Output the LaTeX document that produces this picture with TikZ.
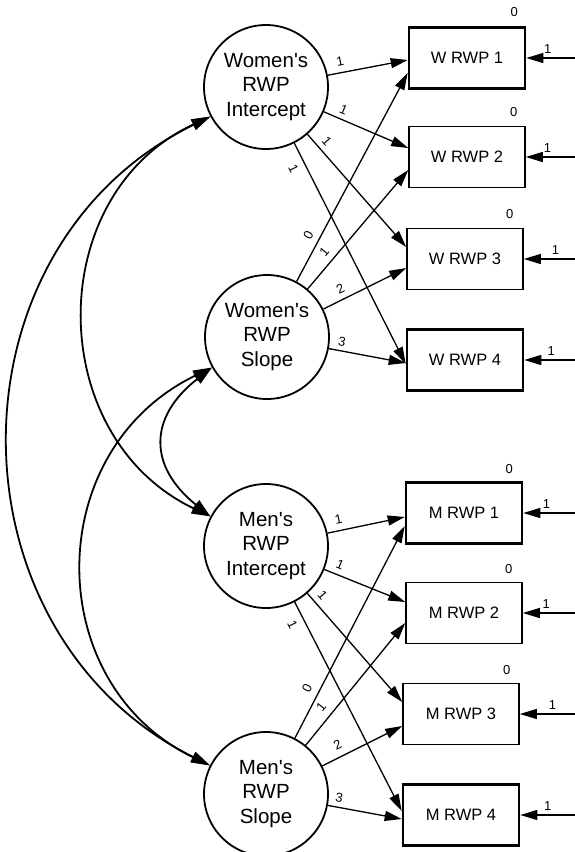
\documentclass[tikz,border=0pt]{standalone}
\usepackage{fontspec}
\setmainfont{Liberation Sans}[Ligatures=ResetAll]
\usetikzlibrary{arrows.meta,calc}
\newcommand\straightapos{\XeTeXglyph\XeTeXcharglyph"0027\relax}
\begin{document}
\begin{tikzpicture}[x=1pt,y=-1pt,
  lat/.style={circle, draw, line width=1.8pt, minimum size=124pt, inner sep=0pt, align=center, font=\fontsize{20.5}{24.5}\selectfont},
  obs/.style={rectangle, draw, minimum width=116pt, minimum height=61pt, inner sep=0pt, font=\fontsize{16.5}{19}\selectfont},
  boldbox/.style={obs, line width=2.6pt},
  plainbox/.style={obs, line width=1.6pt},
  reg/.style={line width=1.3pt, -{Triangle[length=17pt,width=10pt]}},
  cov/.style={line width=1.8pt, {Triangle[length=19pt,width=11pt]}-{Triangle[length=19pt,width=11pt]}},
  lab/.style={font=\fontsize{13}{15}\selectfont, inner sep=1pt, sloped},
  elab/.style={font=\fontsize{13}{15}\selectfont, inner sep=1pt},
  zero/.style={font=\fontsize{13}{15}\selectfont, inner sep=0pt}
]
\useasboundingbox (0,0) rectangle (575,852);
\fill[white] (0,0) rectangle (575,852);
\coordinate (rx) at (575,0);

% latent variables
\node[lat] (wi) at (266,87) {Women\straightapos s\\RWP\\Intercept};
\node[lat] (ws) at (267,337) {Women\straightapos s\\RWP\\Slope};
\node[lat] (mi) at (266,546) {Men\straightapos s\\RWP\\Intercept};
\node[lat] (ms) at (266,794) {Men\straightapos s\\RWP\\Slope};

% observed variables
\node[boldbox]  (w1) at (467,58)  {W RWP 1};
\node[plainbox] (w2) at (467,157) {W RWP 2};
\node[plainbox] (w3) at (465,259) {W RWP 3};
\node[boldbox]  (w4) at (465,360) {W RWP 4};
\node[boldbox]  (m1) at (464,513) {M RWP 1};
\node[plainbox] (m2) at (464,613) {M RWP 2};
\node[plainbox] (m3) at (461,714) {M RWP 3};
\node[boldbox]  (m4) at (461,815) {M RWP 4};

% intercept labels
\node[zero] (z1) at ($(w1.north east)+(-12,-14)$) {0};
\node[zero] (z2) at ($(w2.north east)+(-12,-14)$) {0};
\node[zero] (z3) at ($(w3.north east)+(-14,-14)$) {0};
\node[zero] (z5) at ($(m1.north east)+(-14,-12)$) {0};
\node[zero] (z6) at ($(m2.north east)+(-14,-13)$) {0};
\node[zero] (z7) at ($(m3.north east)+(-13,-13)$) {0};

% covariances
\draw[cov] (wi.208) .. controls +(-268,131) and +(-266,-133) .. (ms.153);
\draw[cov] (wi.208) .. controls +(-168,78) and +(-167,-80) .. (mi.152);
\draw[cov] (ws.209) .. controls +(-64,50) and +(-62,-50) .. (mi.152);
\draw[cov] (ws.209) .. controls +(-171,83) and +(-169,-82) .. (ms.153);

% women's loadings
\draw[reg] (wi) -- ($(w1.west)+(0,2)$)   node[lab,pos=.18,above=5pt]{1};
\draw[reg] (wi) -- ($(w2.west)+(0,-9)$)  node[lab,pos=.19,above=4pt]{1};
\draw[reg] (wi) -- ($(w3.west)+(0,-12)$) node[lab,pos=.12,above=4pt]{1};
\draw[reg] (wi) -- ($(w4.west)+(0,4)$)   node[lab,pos=.09,below=6pt]{1};
\draw[reg] (ws) -- ($(w1.west)+(0,15)$)  node[lab,pos=.195,above=5pt]{0};
\draw[reg] (ws) -- ($(w2.west)+(0,13)$)  node[lab,pos=.25,above=5pt]{1};
\draw[reg] (ws) -- ($(w3.west)+(0,9)$)   node[lab,pos=.26,above=4pt]{2};
\draw[reg] (ws) -- ($(w4.west)+(0,3)$)   node[lab,pos=.15,above=3pt]{3};

% men's loadings
\draw[reg] (mi) -- ($(m1.west)+(0,4)$)   node[lab,pos=.17,above=5pt]{1};
\draw[reg] (mi) -- ($(m2.west)+(0,-11)$) node[lab,pos=.15,above=4pt]{1};
\draw[reg] (mi) -- ($(m3.west)+(0,-12)$) node[lab,pos=.08,above=4pt]{1};
\draw[reg] (mi) -- ($(m4.west)+(0,-4)$)  node[lab,pos=.08,below=6pt]{1};
\draw[reg] (ms) -- ($(m1.west)+(0,13)$)  node[lab,pos=.21,above=6pt]{0};
\draw[reg] (ms) -- ($(m2.west)+(0,10)$)  node[lab,pos=.25,above=6pt]{1};
\draw[reg] (ms) -- ($(m3.west)+(0,12)$)  node[lab,pos=.26,above=6pt]{2};
\draw[reg] (ms) -- ($(m4.west)+(0,4)$)   node[lab,pos=.13,above=3pt]{3};

% error terms
\draw[reg] (w1.east -| rx) -- (w1.east) node[elab,pos=.56,above=3pt]{1};
\draw[reg] (w2.east -| rx) -- (w2.east) node[elab,pos=.56,above=3pt]{1};
\draw[reg] (w3.east -| rx) -- (w3.east) node[elab,pos=.38,above=3pt]{1};
\draw[reg] (w4.east -| rx) -- (w4.east) node[elab,pos=.47,above=3pt]{1};
\draw[reg] (m1.east -| rx) -- (m1.east) node[elab,pos=.55,above=3pt]{1};
\draw[reg] (m2.east -| rx) -- (m2.east) node[elab,pos=.55,above=3pt]{1};
\draw[reg] (m3.east -| rx) -- (m3.east) node[elab,pos=.41,above=3pt]{1};
\draw[reg] (m4.east -| rx) -- (m4.east) node[elab,pos=.5,above=3pt]{1};
\end{tikzpicture}
\end{document}
